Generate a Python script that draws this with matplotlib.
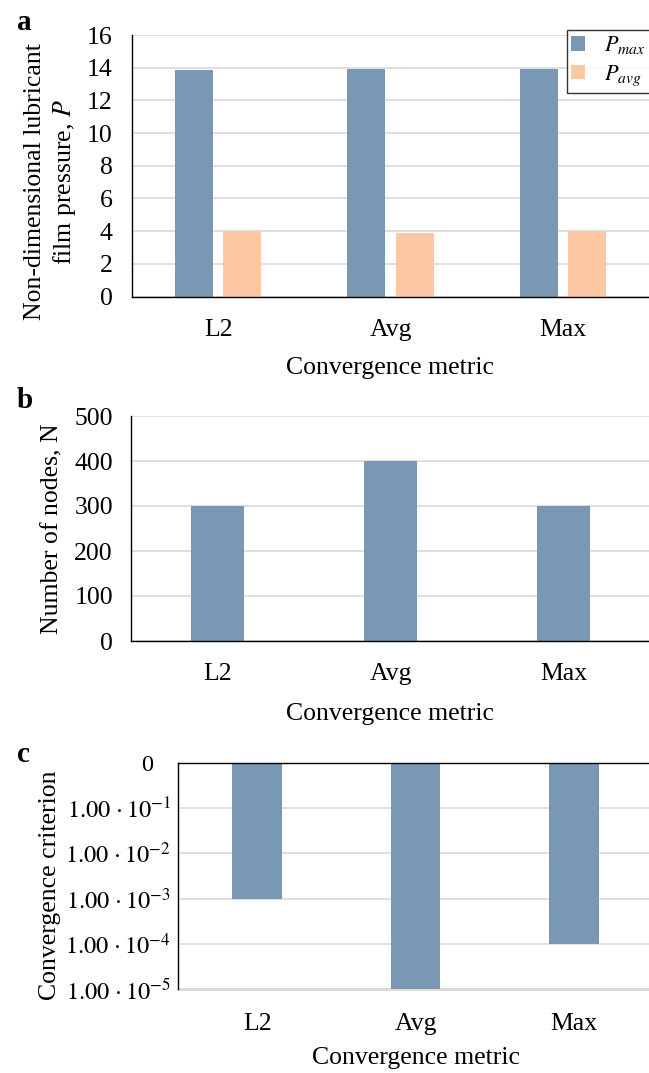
import matplotlib
matplotlib.use("Agg")
import matplotlib.pyplot as plt
import matplotlib.transforms as mtransforms
import numpy as np

plt.rcParams['font.family'] = ['Liberation Serif', 'DejaVu Serif']
plt.rcParams['mathtext.fontset'] = 'stix'

categories = ["L2", "Avg", "Max"]
p_max = [13.85, 13.95, 13.95]
p_avg = [4.0, 3.88, 4.0]
nodes = [300, 400, 300]
criterion = [1e-3, 1e-5, 1e-4]
crit_ticks = [1, 1e-1, 1e-2, 1e-3, 1e-4, 1e-5]
crit_labels = ["0", r"$1.00\,\cdot10^{-1}$", r"$1.00\,\cdot10^{-2}$", r"$1.00\,\cdot10^{-3}$",
               r"$1.00\,\cdot10^{-4}$", r"$1.00\,\cdot10^{-5}$"]

BLUE = "#7a97b3"
PEACH = "#fec8a5"
GRID = "#d9d9d9"
FS = 18.5
TFS = 18.5

W, H = 649, 1073
fig = plt.figure(figsize=(W / 100, H / 100), dpi=100)


def ax_px(left, top, right, bottom):
    return fig.add_axes([left / W, 1 - bottom / H, (right - left) / W, (bottom - top) / H])


def style(ax):
    for s in ax.spines.values():
        s.set_visible(False)
    ax.grid(axis='y', color=GRID, linewidth=1.2)
    ax.set_axisbelow(True)
    ax.tick_params(axis='both', length=0, labelsize=TFS)
    ax.set_xlim(-0.5, 2.5)
    ax.set_xticks(range(len(categories)))
    ax.set_xticklabels(categories)


x = np.arange(len(categories))

# Panel a
ax1 = ax_px(132, 35, 649, 296.5)
style(ax1)
ax1.bar(x - 0.14, p_max, width=0.22, color=BLUE, label=r"$P_{max}$", zorder=2)
ax1.bar(x + 0.14, p_avg, width=0.22, color=PEACH, label=r"$P_{avg}$", zorder=2)
ax1.set_ylim(0, 16)
ax1.set_yticks(range(0, 17, 2))
ax1.spines['left'].set_visible(True)
ax1.spines['bottom'].set_visible(True)
ax1.tick_params(axis='y', pad=14)
ax1.tick_params(axis='x', pad=16)
ax1.set_xlabel("Convergence metric", fontsize=FS, labelpad=12)
leg = fig.legend(loc='upper left', bbox_to_anchor=(567 / W, 1 - 30 / H), borderaxespad=0,
                 fontsize=16, frameon=True, fancybox=False, edgecolor='black',
                 handlelength=0.62, handleheight=0.62, handletextpad=0.85,
                 labelspacing=0.32, borderpad=0.2)
leg.get_frame().set_linewidth(1.0)

# Panel b
ax2 = ax_px(131, 416, 650, 641)
style(ax2)
ax2.bar(x, nodes, width=0.31, color=BLUE, zorder=2)
ax2.set_ylim(0, 500)
ax2.set_yticks(range(0, 501, 100))
ax2.spines['left'].set_visible(True)
ax2.spines['bottom'].set_visible(True)
ax2.tick_params(axis='y', pad=13)
ax2.tick_params(axis='x', pad=16)
ax2.set_xlabel("Convergence metric", fontsize=FS, labelpad=13)

# Panel c
ax3 = ax_px(178, 763, 653, 989)
style(ax3)
ax3.set_yscale('log')
crit = np.array(criterion)
ax3.bar(x, 1 - crit, bottom=crit, width=0.315, color=BLUE, zorder=2)
ax3.set_ylim(1e-5, 1)
ax3.set_yticks(crit_ticks)
ax3.set_yticklabels(crit_labels)
ax3.yaxis.set_minor_locator(matplotlib.ticker.NullLocator())
ax3.tick_params(axis='y', labelsize=17.5, pad=5)
ax3.spines['left'].set_visible(True)
ax3.spines['top'].set_visible(True)
ax3.tick_params(axis='x', pad=17)
ax3.set_xlabel("Convergence metric", fontsize=FS, labelpad=9)
ax3.axhline(1e-5, color=GRID, linewidth=2.0, zorder=1, clip_on=False)
# shift the "0" label left to match the reference alignment
lbl0 = ax3.get_yticklabels()[0]
lbl0.set_transform(lbl0.get_transform() + mtransforms.ScaledTranslation(-0.18, 0, fig.dpi_scale_trans))

for ax in (ax1, ax2, ax3):
    for s in ax.spines.values():
        s.set_linewidth(1.0)
        s.set_color('black')

# y labels
fig.text(51 / W, 1 - 182 / H, "Non-dimensional lubricant\nfilm pressure, $P$", rotation=90,
         ha='center', va='center', fontsize=FS, linespacing=1.2, multialignment='center')
fig.text(52 / W, 1 - 529 / H, "Number of nodes, N", rotation=90,
         ha='center', va='center', fontsize=FS)
fig.text(50 / W, 1 - 885 / H, "Convergence criterion", rotation=90,
         ha='center', va='center', fontsize=FS)

# panel letters
for letter, yy in (("a", 22), ("b", 401), ("c", 754)):
    fig.text(17 / W, 1 - yy / H, letter, fontsize=21, fontweight='bold', ha='left', va='center')

fig.savefig("out.png", dpi=100)
